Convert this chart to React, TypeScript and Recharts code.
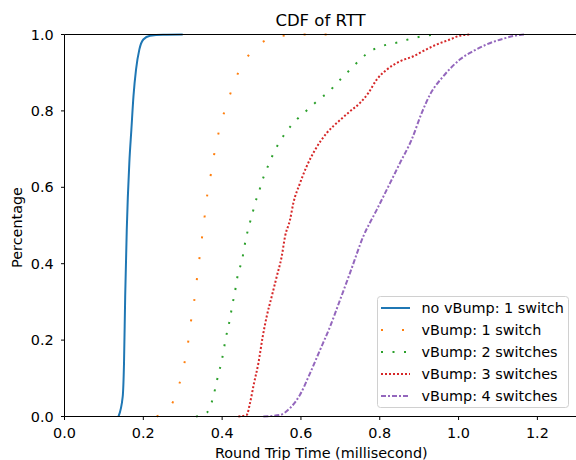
import React from "react";
import { LineChart, Line, XAxis, YAxis, ReferenceLine, Legend } from "recharts";

// Round trip time (ms) vs cumulative fraction
const noVBump1Switch: [number, number][] = [
  [0.137, 0.0], [0.1477, 0.052], [0.151, 0.139], [0.154, 0.314], [0.158, 0.489],
  [0.1645, 0.664], [0.1697, 0.751], [0.175, 0.838], [0.1815, 0.908], [0.19, 0.961],
  [0.2, 0.987], [0.217, 0.997], [0.25, 0.9995], [0.3, 1.0],
];
const vBump1Switch: [number, number][] = [
  [0.234, 0.0], [0.272, 0.032], [0.29, 0.08], [0.303, 0.133], [0.3127, 0.187],
  [0.32, 0.243], [0.3287, 0.299], [0.3355, 0.356], [0.3422, 0.412], [0.349, 0.469],
  [0.356, 0.527], [0.3625, 0.582], [0.372, 0.6375], [0.381, 0.693], [0.392, 0.747],
  [0.4057, 0.798], [0.4218, 0.848], [0.4395, 0.897], [0.4633, 0.94], [0.497, 0.976],
  [0.5487, 0.996], [0.6078, 1.0], [0.67, 1.0],
];
const vBump2Switches: [number, number][] = [
  [0.3338, 0.0], [0.361, 0.01], [0.3727, 0.0345], [0.38, 0.062], [0.386, 0.091],
  [0.393, 0.12], [0.3997, 0.15], [0.405, 0.18], [0.41, 0.209], [0.4167, 0.239],
  [0.4217, 0.267], [0.4268, 0.297], [0.4326, 0.326], [0.437, 0.356], [0.4435, 0.384],
  [0.4513, 0.413], [0.4564, 0.444], [0.462, 0.473], [0.469, 0.502], [0.4767, 0.53],
  [0.4835, 0.559], [0.4927, 0.585], [0.5003, 0.613], [0.5097, 0.639], [0.5207, 0.666],
  [0.5308, 0.69], [0.5435, 0.715], [0.5579, 0.738], [0.574, 0.76], [0.5918, 0.78],
  [0.6113, 0.798], [0.6315, 0.817], [0.652, 0.835], [0.674, 0.853], [0.691, 0.873],
  [0.7094, 0.891], [0.7289, 0.913], [0.7483, 0.932], [0.767, 0.95], [0.8008, 0.968],
  [0.82, 0.974], [0.849, 0.98], [0.879, 0.989], [0.912, 0.996], [0.944, 1.0],
];
const vBump3Switches: [number, number][] = [
  [0.4412, 0.0], [0.4623, 0.004], [0.4707, 0.035], [0.4809, 0.087], [0.4919, 0.139],
  [0.503, 0.209], [0.5131, 0.262], [0.5258, 0.314], [0.5385, 0.366], [0.5512, 0.419],
  [0.5596, 0.471], [0.5723, 0.515], [0.5808, 0.559], [0.5977, 0.611], [0.6146, 0.655],
  [0.6358, 0.698], [0.6654, 0.742], [0.6992, 0.776], [0.7246, 0.799], [0.75, 0.821],
  [0.7712, 0.847], [0.7923, 0.882], [0.8177, 0.908], [0.8516, 0.93], [0.8854, 0.943],
  [0.9108, 0.957], [0.9447, 0.974], [0.9786, 0.987], [1.0, 0.996], [1.03, 1.0],
];
const vBump4Switches: [number, number][] = [
  [0.5046, 0.0], [0.547, 0.004], [0.5723, 0.022], [0.5977, 0.057], [0.623, 0.113],
  [0.6484, 0.174], [0.6738, 0.235], [0.6992, 0.305], [0.7246, 0.376], [0.7585, 0.472],
  [0.7923, 0.541], [0.8261, 0.611], [0.8515, 0.664], [0.881, 0.725], [0.9066, 0.795],
  [0.9277, 0.843], [0.9616, 0.891], [1.004, 0.935], [1.038, 0.957], [1.0711, 0.974],
  [1.1135, 0.989], [1.156, 0.999], [1.17, 1.0],
];

const xTicks = [0, 0.2, 0.4, 0.6, 0.8, 1.0, 1.2];
const yTicks = [0, 0.2, 0.4, 0.6, 0.8, 1.0];
const seriesNames = [
  "no vBump: 1 switch",
  "vBump: 1 switch",
  "vBump: 2 switches",
  "vBump: 3 switches",
  "vBump: 4 switches",
];
const title = "CDF of RTT";
const xLabel = "Round Trip Time (millisecond)";
const yLabel = "Percentage";

const FONT = "DejaVu Sans";
const styles = [
  { color: "#1f77b4", dash: undefined as string | undefined },
  { color: "#ff7f0e", dash: "2 19" },
  { color: "#2ca02c", dash: "2 9.5" },
  { color: "#d62728", dash: "2 2" },
  { color: "#9467bd", dash: "5 2 2 2" },
];
const allSeries = [noVBump1Switch, vBump1Switch, vBump2Switches, vBump3Switches, vBump4Switches];

const toData = (pts: [number, number][]) => pts.map(([x, y]) => ({ x, y }));

const LegendBox = () => (
  <svg width={193} height={113} style={{ display: "block" }}>
    <rect x={0.5} y={0.5} width={191} height={111} rx={3} ry={3} fill="rgba(255,255,255,0.8)" stroke="#d0d0d0" strokeWidth={1} />
    {seriesNames.map((name, i) => {
      const cy = 12 + i * 22;
      return (
        <g key={name}>
          <line x1={4} x2={33} y1={cy} y2={cy} stroke={styles[i].color} strokeWidth={2} strokeDasharray={styles[i].dash} />
          <text x={44.5} y={cy + 5} fontFamily={FONT} fontSize={14.4} fill="#000">{name}</text>
        </g>
      );
    })}
  </svg>
);

export default function App() {
  return (
    <div style={{ position: "absolute", left: 0, top: 0, width: 576, height: 460, background: "#fff", fontFamily: FONT }}>
      <LineChart width={576} height={460} margin={{ top: 34.5, right: 0, left: 4.5, bottom: 13.5 }}>
        <XAxis
          type="number"
          dataKey="x"
          domain={[0, 1.298]}
          ticks={xTicks}
          allowDataOverflow
          height={30}
          tickSize={3.5}
          tickMargin={8}
          tickFormatter={(v: number) => v.toFixed(1)}
          tick={{ fill: "#000", fontSize: 14.4, fontFamily: FONT }}
          tickLine={{ stroke: "#000" }}
          axisLine={{ stroke: "#000", strokeWidth: 1 }}
        />
        <YAxis
          type="number"
          dataKey="y"
          domain={[0, 1]}
          ticks={yTicks}
          width={60}
          tickSize={3.5}
          tickMargin={7.3}
          tickFormatter={(v: number) => v.toFixed(1)}
          tick={{ fill: "#000", fontSize: 14.4, fontFamily: FONT }}
          tickLine={{ stroke: "#000" }}
          axisLine={{ stroke: "#000", strokeWidth: 1 }}
        />
        {allSeries.map((pts, i) => (
          <Line
            key={seriesNames[i]}
            data={toData(pts)}
            dataKey="y"
            name={seriesNames[i]}
            type="monotoneX"
            stroke={styles[i].color}
            strokeWidth={2}
            strokeDasharray={styles[i].dash}
            dot={false}
            activeDot={false}
            isAnimationActive={false}
          />
        ))}
        <ReferenceLine y={1} stroke="#000" strokeWidth={1} />
        <Legend
          layout="vertical"
          align="center"
          verticalAlign="middle"
          content={() => <LegendBox />}
          wrapperStyle={{ position: "absolute", left: 377, top: 296, width: 193, height: 113, margin: 0 }}
        />
      </LineChart>
      <svg width={576} height={460} style={{ position: "absolute", left: 0, top: 0, pointerEvents: "none" }}>
        <text x={320.5} y={25.7} textAnchor="middle" fontFamily={FONT} fontSize={16.5} fill="#000">{title}</text>
        <text x={321.3} y={457.5} textAnchor="middle" fontFamily={FONT} fontSize={14.4} fill="#000">{xLabel}</text>
        <text x={0} y={0} textAnchor="middle" fontFamily={FONT} fontSize={14.4} fill="#000" transform="translate(22.3 227.5) rotate(-90)">{yLabel}</text>
      </svg>
    </div>
  );
}
